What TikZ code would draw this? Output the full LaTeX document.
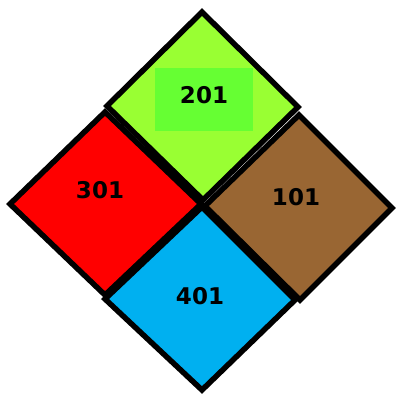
\documentclass[tikz,border=0pt]{standalone}
\usepackage{fontspec}
\setmainfont{DejaVu Sans}
\definecolor{gfill}{HTML}{99FF33}
\definecolor{glabel}{HTML}{66FF33}
\definecolor{rfill}{HTML}{FF0000}
\definecolor{bfill}{HTML}{996633}
\definecolor{cfill}{HTML}{00B0F0}
\begin{document}
\begin{tikzpicture}[x=1bp,y=-1bp,
  panel/.style={draw=black,line width=5.5bp,line join=miter},
  num/.style={font=\bfseries\fontsize{23bp}{26bp}\selectfont,text=black,inner sep=0pt}]
\useasboundingbox (0,0) rectangle (396,396);
% green (top)
\coordinate (gT) at (202,12); \coordinate (gL) at (107,106);
\coordinate (gR) at (298,107); \coordinate (gB) at (203,200);
% red (left)
\coordinate (rT) at (105,112); \coordinate (rL) at (10,204);
\coordinate (rR) at (201,204); \coordinate (rB) at (105,295);
% brown (right)
\coordinate (bT) at (299,115); \coordinate (bL) at (205,206);
\coordinate (bR) at (392,208); \coordinate (bB) at (300,300);
% blue (bottom)
\coordinate (cT) at (202,207); \coordinate (cL) at (105,299);
\coordinate (cR) at (295,300); \coordinate (cB) at (202,390);
\path[panel,fill=gfill] (gT) -- (gR) -- (gB) -- (gL) -- cycle;
\fill[glabel] (155,68) rectangle (253,131);
\path[panel,fill=rfill] (rT) -- (rR) -- (rB) -- (rL) -- cycle;
\path[panel,fill=bfill] (bT) -- (bR) -- (bB) -- (bL) -- cycle;
\path[panel,fill=cfill] (cT) -- (cR) -- (cB) -- (cL) -- cycle;
\node[num] (n201) at (204,95) {201};
\node[num] (n301) at (100,190) {301};
\node[num] (n101) at (296,197) {101};
\node[num] (n401) at (200,296) {401};
\end{tikzpicture}
\end{document}
